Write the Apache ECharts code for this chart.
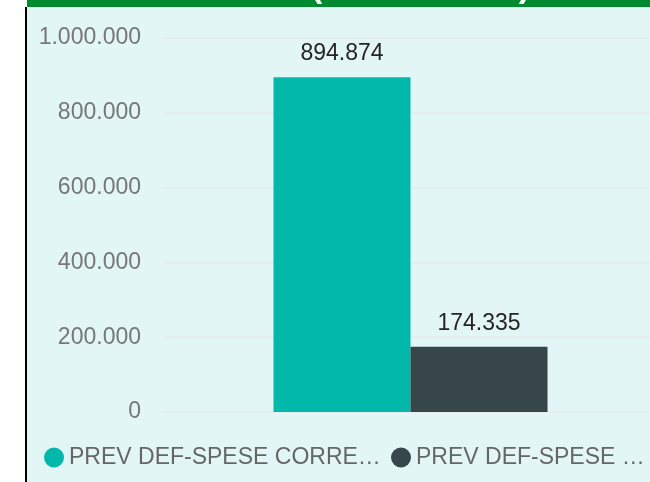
<!DOCTYPE html>
<html>
<head>
<meta charset="utf-8">
<title>Prev def spese</title>
<script src="https://cdn.jsdelivr.net/npm/echarts@6/dist/echarts.min.js"></script>
<style>
  html, body { margin: 0; padding: 0; background: #ffffff; }
  #chart { width: 650px; height: 482px; }
</style>
</head>
<body>
<div id="chart"></div>
<script>
// Chart data
const categories = ['Spese'];
const seriesNames = ['PREV DEF-SPESE CORRENTI', 'PREV DEF-SPESE IN CONTO CAPITALE'];
const correntiValues = [894874];
const capitaleValues = [174335];
const yTicks = [0, 200000, 400000, 600000, 800000, 1000000];
const titleText = '(IN MIGLIAIA)';

// Power BI classic palette
const colors = ['#01b8aa', '#374649'];
const font = '"Liberation Sans", Arial, sans-serif';

// Italian thousands separator
const fmt = (v) => String(v).replace(/\B(?=(\d{3})+(?!\d))/g, '.');

const chart = echarts.init(document.getElementById('chart'));

const barSeries = (name, values, color) => ({
  name: name,
  type: 'bar',
  data: values,
  barWidth: 137,
  barGap: '0%',
  itemStyle: { color: color },
  label: {
    show: true,
    position: 'top',
    distance: 12,
    color: '#252423',
    fontSize: 23,
    fontFamily: font,
    formatter: (p) => fmt(p.value),
  },
});

const legendItem = (name, left, width) => ({
  data: [name],
  left: left,
  top: 446,
  padding: 0,
  icon: 'circle',
  itemWidth: 20,
  itemHeight: 20,
  selectedMode: false,
  textStyle: {
    color: '#666666',
    fontSize: 23,
    fontFamily: font,
    width: width,
    overflow: 'truncate',
    ellipsis: '…',
  },
});

const option = {
  animation: false,
  backgroundColor: '#ffffff',
  textStyle: { fontFamily: font },
  graphic: [
    // panel background, green header strip and left border
    { type: 'rect', z: -10, shape: { x: 27, y: 0, width: 623, height: 482 }, style: { fill: '#e3f6f6' } },
    { type: 'rect', z: -9, shape: { x: 27, y: 0, width: 623, height: 7 }, style: { fill: '#008a30' } },
    { type: 'rect', z: -9, shape: { x: 25, y: 7, width: 2, height: 475 }, style: { fill: '#000000' } },
    {
      type: 'text', z: -8, x: 311, y: -12,
      style: { text: titleText, fill: '#ffffff', font: 'bold 34px ' + font, verticalAlign: 'middle', align: 'left' },
    },
  ],
  legend: [
    legendItem(seriesNames[0], 44, 322),
    legendItem(seriesNames[1], 391, 231),
  ],
  // grid runs past the right edge, as in the cropped panel
  grid: { left: 163, right: -8, top: 38, bottom: 70, outerBoundsMode: 'none' },
  xAxis: {
    type: 'category',
    data: categories,
    axisLine: { show: false },
    axisTick: { show: false },
    axisLabel: { show: false },
  },
  yAxis: {
    type: 'value',
    min: yTicks[0],
    max: yTicks[yTicks.length - 1],
    interval: yTicks[1] - yTicks[0],
    axisLine: { show: false },
    axisTick: { show: false },
    axisLabel: {
      color: '#777777',
      fontSize: 23,
      fontFamily: font,
      margin: 22,
      formatter: (v) => fmt(v),
    },
    splitLine: { lineStyle: { color: '#e8e8e8', width: 1.5 } },
  },
  series: [
    barSeries(seriesNames[0], correntiValues, colors[0]),
    barSeries(seriesNames[1], capitaleValues, colors[1]),
  ],
};

chart.setOption(option);
</script>
</body>
</html>
